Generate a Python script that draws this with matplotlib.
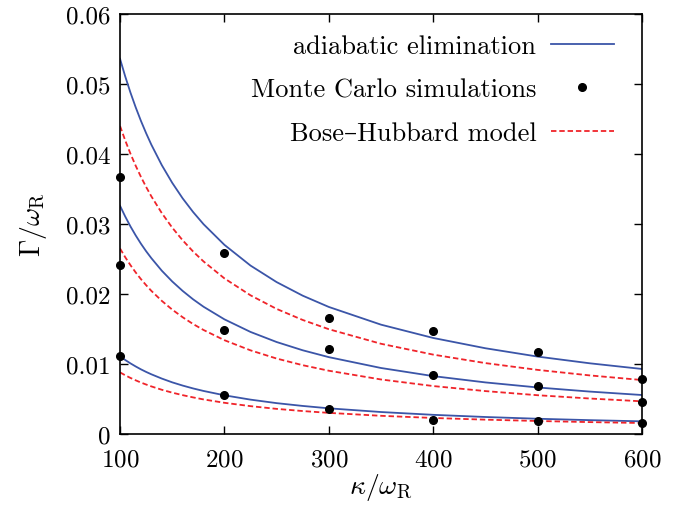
import numpy as np
import matplotlib
matplotlib.use('Agg')
from matplotlib import pyplot as plt

plt.rcParams['font.family'] = ['cmr10', 'DejaVu Serif']
plt.rcParams['mathtext.fontset'] = 'cm'
plt.rcParams['axes.formatter.use_mathtext'] = True

# curve samples
kappa = [100, 105, 110, 115, 120, 125, 130, 140, 150, 160, 170, 180, 200,
         225, 250, 275, 300, 350, 400, 450, 500, 550, 600]

ae_top = [0.05360, 0.05107, 0.04877, 0.04667, 0.04474, 0.04297, 0.04133, 0.03841, 0.03588, 0.03366, 0.03171, 0.02997,
          0.02702, 0.02406, 0.02170, 0.01976, 0.01815, 0.01562, 0.01372, 0.01225, 0.01106, 0.01010, 0.00929]
ae_mid = [0.03260, 0.03106, 0.02965, 0.02837, 0.02719, 0.02611, 0.02512, 0.02333, 0.02179, 0.02044, 0.01924, 0.01818,
          0.01638, 0.01458, 0.01314, 0.01196, 0.01098, 0.00943, 0.00827, 0.00737, 0.00665, 0.00606, 0.00557]
ae_low = [0.01110, 0.01057, 0.01009, 0.00965, 0.00924, 0.00887, 0.00853, 0.00792, 0.00738, 0.00692, 0.00651, 0.00615,
          0.00553, 0.00491, 0.00441, 0.00401, 0.00367, 0.00314, 0.00274, 0.00243, 0.00218, 0.00198, 0.00181]

bh_top = [0.04400, 0.04193, 0.04004, 0.03832, 0.03674, 0.03529, 0.03395, 0.03156, 0.02948, 0.02767, 0.02607, 0.02465,
          0.02223, 0.01981, 0.01787, 0.01629, 0.01497, 0.01289, 0.01134, 0.01013, 0.00916, 0.00837, 0.00771]
bh_mid = [0.02650, 0.02525, 0.02412, 0.02308, 0.02213, 0.02126, 0.02045, 0.01902, 0.01777, 0.01668, 0.01571, 0.01486,
          0.01340, 0.01195, 0.01078, 0.00983, 0.00904, 0.00779, 0.00685, 0.00613, 0.00554, 0.00507, 0.00467]
bh_low = [0.00880, 0.00839, 0.00801, 0.00767, 0.00735, 0.00707, 0.00680, 0.00632, 0.00591, 0.00555, 0.00523, 0.00494,
          0.00446, 0.00398, 0.00359, 0.00328, 0.00302, 0.00260, 0.00229, 0.00205, 0.00186, 0.00170, 0.00157]

# Monte Carlo points
mc_kappa = [100, 100, 100, 200, 200, 200, 300, 300, 300, 400, 400, 400, 500, 500, 500, 600, 600, 600]
mc_gamma = [0.0367, 0.0242, 0.0111, 0.0259, 0.0149, 0.00557, 0.01657, 0.01214, 0.00357,
            0.01476, 0.00848, 0.0020, 0.01167, 0.00686, 0.0019, 0.00786, 0.00452, 0.00162]

blue = '#3b55a8'
red = '#f0242a'

fig = plt.figure(figsize=(6.97, 5.06), dpi=100)
ax = fig.add_axes([0.1722, 0.1403, 0.7489, 0.8301])

for i, c in enumerate([ae_top, ae_mid, ae_low]):
    ax.plot(kappa, c, color=blue, lw=1.3, label='adiabatic elimination' if i == 0 else None)
ax.plot(mc_kappa, mc_gamma, 'o', color='black', ms=5.5, clip_on=False, zorder=5,
        label='Monte Carlo simulations')
for i, c in enumerate([bh_top, bh_mid, bh_low]):
    ax.plot(kappa, c, color=red, lw=1.3, dashes=(3, 1.6),
            label='Bose\u2013Hubbard model' if i == 0 else None)

h, l = ax.get_legend_handles_labels()
ax.legend(h, l, loc='upper right', bbox_to_anchor=(0.9617, 0.9705), frameon=False,
          markerfirst=False, fontsize=19, handlelength=2.4, handletextpad=0.55,
          labelspacing=0.75, borderaxespad=0, borderpad=0.3)

ax.set_xlim(100, 600)
ax.set_ylim(0, 0.06)
ax.set_xticks([100, 200, 300, 400, 500, 600])
ax.set_yticks([0, 0.01, 0.02, 0.03, 0.04, 0.05, 0.06])
ax.set_yticklabels(['0', '0.01', '0.02', '0.03', '0.04', '0.05', '0.06'])
ax.tick_params(direction='in', top=True, right=True, length=6, width=1, labelsize=18)
ax.tick_params(axis='x', pad=10)
ax.tick_params(axis='y', pad=7)
for s in ax.spines.values():
    s.set_linewidth(1.2)

ax.set_xlabel(r'$\kappa/\omega_{\rm R}$', fontsize=20, labelpad=1)
ax.set_ylabel(r'$\Gamma/\omega_{\rm R}$', fontsize=20, labelpad=12)

fig.savefig('out.png', dpi=100)
